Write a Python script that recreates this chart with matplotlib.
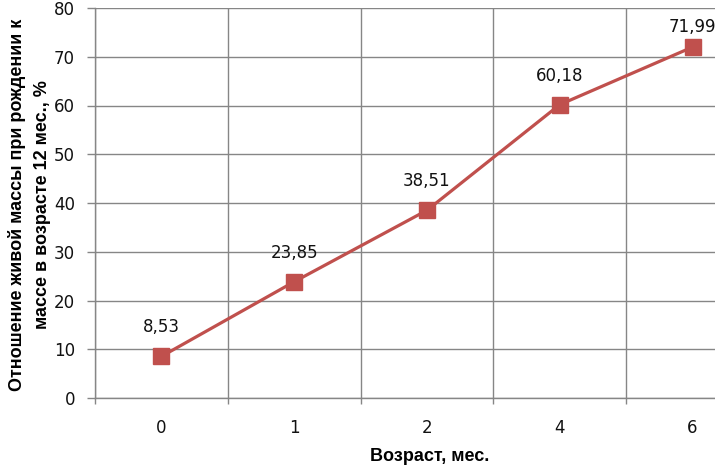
import matplotlib
matplotlib.use("Agg")
import matplotlib.pyplot as plt
from matplotlib.ticker import FixedLocator, NullFormatter

plt.rcParams['font.family'] = ['DejaVu Sans']

categories = ["0", "1", "2", "4", "6"]
values = [8.53, 23.85, 38.51, 60.18, 71.99]
value_labels = ["8,53", "23,85", "38,51", "60,18", "71,99"]
label_offsets_px = [29, 29, 29, 29, 20]
yticks = [0, 10, 20, 30, 40, 50, 60, 70, 80]

W, H = 715, 466
dpi = 100
fig = plt.figure(figsize=(W / dpi, H / dpi), dpi=dpi)
left, right, top, bottom = 95, 759, 8, 398
ax = fig.add_axes([left / W, 1 - bottom / H, (right - left) / W, (bottom - top) / H])

x = list(range(len(categories)))
color = "#C0504D"
px2pt = 72 / dpi
ax.plot(x, values, color=color, lw=3.2 * px2pt, marker="s", markersize=16 * px2pt,
        markerfacecolor=color, markeredgecolor=color, zorder=3, clip_on=False)

num_font = dict(family=["DejaVu Sans"], size=12)
lab_font = dict(family=["Liberation Sans Narrow", "Liberation Sans", "DejaVu Sans"],
                size=13, weight="bold")

for xi, v, lab, off in zip(x, values, value_labels, label_offsets_px):
    ax.annotate(lab, (xi, v), xytext=(0, off * px2pt), textcoords="offset points",
                ha="center", va="center", color="#111111", **num_font)

ax.set_xlim(-0.5, len(categories) - 0.5)
ax.set_ylim(0, 80)

gray = "#868686"
ax.set_xticks(x)
ax.set_xticklabels(categories, color="#111111", **num_font)
ax.xaxis.set_minor_locator(FixedLocator([i + 0.5 for i in range(-1, len(categories))]))
ax.xaxis.set_minor_formatter(NullFormatter())
ax.tick_params(axis="x", which="major", length=0, pad=21 * px2pt)
ax.tick_params(axis="x", which="minor", length=6 * px2pt, width=1, color=gray, direction="out")
ax.set_yticks(yticks)
ax.set_yticklabels([str(t) for t in yticks], color="#111111", **num_font)
ax.tick_params(axis="y", length=8 * px2pt, width=1, color=gray, direction="out",
               pad=12 * px2pt)

ax.grid(True, which="minor", axis="x", color=gray, lw=1)
ax.grid(True, which="major", axis="y", color=gray, lw=1)
ax.set_axisbelow(True)

for s in ["top", "right"]:
    ax.spines[s].set_visible(False)
for s in ["left", "bottom"]:
    ax.spines[s].set_color(gray)
    ax.spines[s].set_linewidth(1)

ax.set_xlabel("Возраст, мес.", **lab_font)
ax.set_ylabel("Отношение живой массы при рождении к\nмассе в возрасте 12 мес., %",
              linespacing=1.6, **lab_font)
ax.xaxis.set_label_coords((430 - left) / (right - left), -(448 - bottom) / (bottom - top))
ax.yaxis.set_label_coords(-(left - 51) / (right - left), (bottom - 205) / (bottom - top))

fig.savefig("out.png", dpi=dpi, facecolor="white")
